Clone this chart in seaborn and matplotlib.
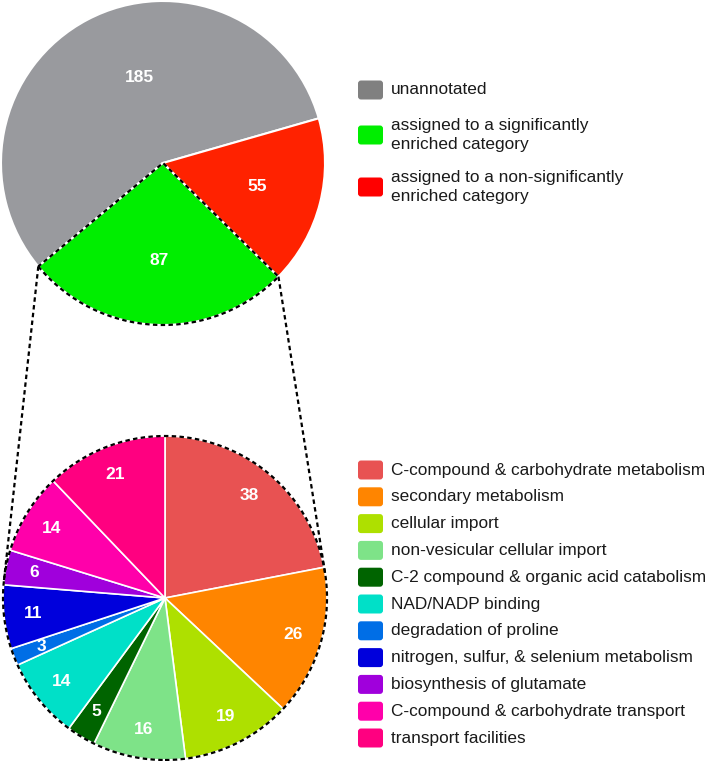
import numpy as np
import matplotlib.pyplot as plt
import seaborn as sns
from matplotlib.patches import Wedge, Circle, FancyBboxPatch

# Data
top_labels = ["unannotated",
              "assigned to a significantly\nenriched category",
              "assigned to a non-significantly\nenriched category"]
top_values = [185, 87, 55]
top_colors = ["#999a9e", "#00ee00", "#ff2200"]
top_legend_colors = ["#808080", "#00ee00", "#ff0000"]

cat_labels = ["C-compound & carbohydrate metabolism",
              "secondary metabolism",
              "cellular import",
              "non-vesicular cellular import",
              "C-2 compound & organic acid catabolism",
              "NAD/NADP binding",
              "degradation of proline",
              "nitrogen, sulfur, & selenium metabolism",
              "biosynthesis of glutamate",
              "C-compound & carbohydrate transport",
              "transport facilities"]
cat_values = [38, 26, 19, 16, 5, 14, 3, 11, 6, 14, 21]
cat_colors = ["#e85252", "#ff8500", "#aee000", "#7ee388", "#006400", "#00e0c8",
              "#006ee6", "#0000dc", "#a000dc", "#ff00aa", "#ff0080"]

sns.set_theme(style="white")
plt.rcParams['font.family'] = ['Liberation Sans', 'DejaVu Sans']

W, H = 706, 761
fig = plt.figure(figsize=(W / 100, H / 100), dpi=100)
ax = fig.add_axes([0, 0, 1, 1])

R = 162
top_c = (163, H - 163)
bot_c = (165, H - 598)


def count_fmt(values):
    total = sum(values)
    return lambda p: f"{int(round(p * total / 100))}"


# === Top pie ===
wedges_top, _, auto_top = ax.pie(
    top_values, colors=top_colors, startangle=16, counterclock=True,
    center=top_c, radius=R, autopct=count_fmt(top_values), pctdistance=0.6,
    wedgeprops=dict(edgecolor="white", linewidth=1.5),
    textprops=dict(color="white", fontsize=12.5, fontweight="bold"))
x0, y0 = auto_top[0].get_position()
auto_top[0].set_position((x0 + 22, y0))

# dotted outline on the enriched wedge
g = wedges_top[1]
ax.add_patch(Wedge(top_c, R, g.theta1, g.theta2, fill=False, edgecolor="black",
                   linewidth=1.6, linestyle=(0, (2, 1.5)), zorder=5))

# === Bottom pie ===
wedges_bot, _, auto_bot = ax.pie(
    cat_values, colors=cat_colors, startangle=90, counterclock=False,
    center=bot_c, radius=R, autopct=count_fmt(cat_values), pctdistance=0.82,
    wedgeprops=dict(edgecolor="white", linewidth=1.2),
    textprops=dict(color="white", fontsize=12.5, fontweight="bold"))
ax.add_patch(Circle(bot_c, R, fill=False, edgecolor="black", linewidth=1.6,
                    linestyle=(0, (2, 1.5)), zorder=5))

# connecting lines: wedge corners -> tangent points on bottom circle
C = np.array(bot_c, dtype=float)
for theta, side in [(g.theta1, -1), (g.theta2, 1)]:
    P = np.array(top_c) + R * np.array([np.cos(np.radians(theta)), np.sin(np.radians(theta))])
    d = P - C
    dist = np.hypot(*d)
    phi = np.arctan2(d[1], d[0])
    a = np.arccos(R / dist)
    cands = [C + R * np.array([np.cos(phi + s * a), np.sin(phi + s * a)]) for s in (1, -1)]
    T = min(cands, key=lambda t: side * -t[0])
    ax.plot([P[0], T[0]], [P[1], T[1]], color="black", linewidth=1.6,
            linestyle=(0, (2, 1.5)), zorder=4)

# === Legends ===
sw_x, sw_w, sw_h, tx = 358, 25, 19, 391
for lab, col, yc in zip(top_labels, top_legend_colors, [90, 135, 187]):
    ax.add_patch(FancyBboxPatch((sw_x, H - yc - sw_h / 2), sw_w, sw_h,
                                boxstyle="round,pad=0,rounding_size=3",
                                facecolor=col, edgecolor="none"))
    ax.text(tx, H - yc, lab, fontsize=12.4, color="#1a1a1a", va="center",
            ha="left", linespacing=1.4)

for i, (lab, col) in enumerate(zip(cat_labels, cat_colors)):
    yc = 470 + i * 26.8
    ax.add_patch(FancyBboxPatch((sw_x, H - yc - sw_h / 2), sw_w, sw_h,
                                boxstyle="round,pad=0,rounding_size=3",
                                facecolor=col, edgecolor="none"))
    ax.text(tx, H - yc, lab, fontsize=12.4, color="#1a1a1a", va="center", ha="left")

ax.set_xlim(0, W)
ax.set_ylim(0, H)
ax.set_aspect("equal")
ax.axis("off")

plt.savefig("out.png", dpi=100)
